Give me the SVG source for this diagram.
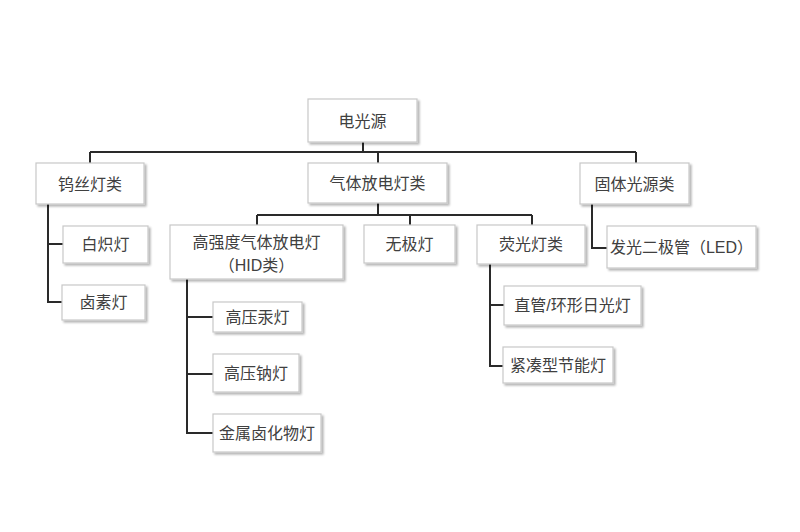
<svg xmlns="http://www.w3.org/2000/svg" width="800" height="532" viewBox="0 0 800 532">
<defs>
<filter id="sh" x="-10%" y="-10%" width="130%" height="140%">
<feGaussianBlur in="SourceAlpha" stdDeviation="1.2"/>
<feOffset dx="1.5" dy="2" result="b"/>
<feComponentTransfer><feFuncA type="linear" slope="0.3"/></feComponentTransfer>
<feMerge><feMergeNode/><feMergeNode in="SourceGraphic"/></feMerge>
</filter>
</defs>
<style>
.box{fill:#fff;stroke:#c8c8c8;stroke-width:1.2;filter:url(#sh)}
.t{font-family:"Liberation Sans","Noto Sans CJK SC",sans-serif;font-size:16px;fill:#404040;text-anchor:middle;dominant-baseline:central}
.c{fill:none;stroke:#2a2a2a;stroke-width:2}
</style>
<rect width="800" height="532" fill="#fff"/>
<g id="connectors">
<path class="c" d="M363 142V152M90 152H636M90 152V163M378 152V163M636 152V163"/>
<path class="c" d="M48 204V302H62M48 244H63"/>
<path class="c" d="M378 203V215M257 215H532M257 215V225M410 215V225M532 215V225"/>
<path class="c" d="M592 204V248H607"/>
<path class="c" d="M187 279V433H213M187 317H213M187 374H213"/>
<path class="c" d="M490 264V366H503M490 305H504"/>
</g>
<g id="n-root"><rect class="box" x="308" y="99" width="109" height="43"/><text class="t" x="362.5" y="121">电光源</text></g>
<g id="n-wusi"><rect class="box" x="36" y="163" width="108" height="41"/><text class="t" x="90" y="184">钨丝灯类</text></g>
<g id="n-qiti"><rect class="box" x="308" y="163" width="139" height="40"/><text class="t" x="377.5" y="183.5">气体放电灯类</text></g>
<g id="n-guti"><rect class="box" x="580" y="163" width="109" height="41"/><text class="t" x="634.5" y="184">固体光源类</text></g>
<g id="n-baichi"><rect class="box" x="63" y="226" width="85" height="37"/><text class="t" x="105.5" y="244.5">白炽灯</text></g>
<g id="n-lusu"><rect class="box" x="62" y="285" width="83" height="35"/><text class="t" x="103.5" y="302.5">卤素灯</text></g>
<g id="n-hid"><rect class="box" x="170" y="225" width="173" height="54"/><text class="t" x="256.5" y="242">高强度气体放电灯</text><text class="t" x="256.5" y="265">（HID类）</text></g>
<g id="n-wuji"><rect class="box" x="364" y="225" width="91" height="38"/><text class="t" x="409.5" y="244">无极灯</text></g>
<g id="n-yingguang"><rect class="box" x="477" y="225" width="108" height="39"/><text class="t" x="531" y="244.5">荧光灯类</text></g>
<g id="n-led"><rect class="box" x="607" y="226" width="149" height="42"/><text class="t" x="681.5" y="247">发光二极管（LED）</text></g>
<g id="n-gongdeng"><rect class="box" x="213" y="302" width="89" height="30"/><text class="t" x="257.5" y="317">高压汞灯</text></g>
<g id="n-nadeng"><rect class="box" x="213" y="354" width="86" height="38"/><text class="t" x="256" y="373">高压钠灯</text></g>
<g id="n-jinshu"><rect class="box" x="213" y="414" width="108" height="38"/><text class="t" x="267" y="433">金属卤化物灯</text></g>
<g id="n-zhiguan"><rect class="box" x="504" y="286" width="137" height="39"/><text class="t" x="572.5" y="305.5">直管/环形日光灯</text></g>
<g id="n-jincou"><rect class="box" x="503" y="347" width="110" height="36"/><text class="t" x="558" y="365">紧凑型节能灯</text></g>
</svg>
